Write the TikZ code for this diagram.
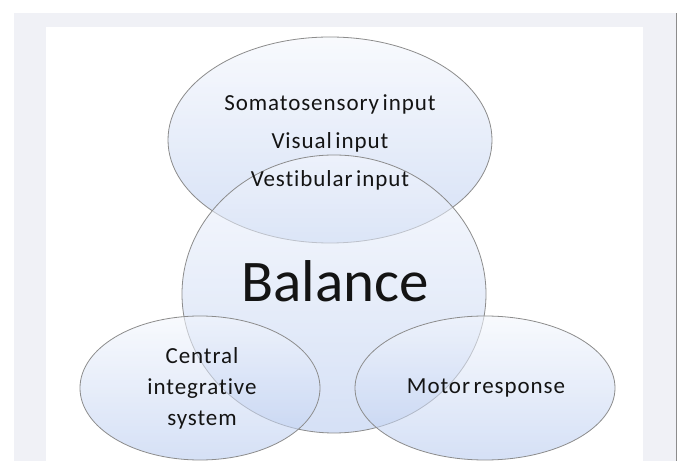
\documentclass[tikz,border=0pt]{standalone}
\usepackage{fontspec}
\setmainfont{Carlito}
\newfontfamily\spacedfont[LetterSpace=4,WordSpace=0.6,Ligatures=NoCommon]{Carlito}
\usetikzlibrary{shapes.geometric}
\definecolor{framegray}{HTML}{F0F1F6}
\definecolor{edgegray}{HTML}{8C8C8C}
\definecolor{bluetop}{HTML}{F4F7FD}
\definecolor{bluebot}{HTML}{B8CBF0}
\definecolor{txt}{HTML}{141414}
\tikzset{
  bubble/.style={ellipse, draw=edgegray, line width=0.8pt, inner sep=0pt,
    top color=bluetop, bottom color=bluebot, fill opacity=0.58, draw opacity=1},
  smalltxt/.style={text=txt, align=center, font=\spacedfont\fontsize{23}{31}\selectfont, inner sep=0pt},
}
\begin{document}
\begin{tikzpicture}[x=1pt,y=1pt]
  \fill[white] (0,0) rectangle (681,461);
  \useasboundingbox (0,0) rectangle (681,461);
  \fill[framegray] (14,0) rectangle (676,448);
  \draw[edgegray, line width=1.2pt] (676.6,0) -- (676.6,448);
  \fill[white] (46,0) rectangle (643,434);

  \node[bubble, minimum width=324pt, minimum height=206pt] (top) at (330,321) {};
  \node[bubble, minimum width=304pt, minimum height=278pt] (bal) at (334,167) {};
  \node[bubble, minimum width=240pt, minimum height=144pt] (left) at (200,73) {};
  \node[bubble, minimum width=260pt, minimum height=144pt] (right) at (485,73) {};

  \node[smalltxt, font=\spacedfont\fontsize{23}{38}\selectfont] (toptxt) at (330,319) {Somatosensory input\\Visual input\\Vestibular input};
  \node[text=txt, inner sep=0pt, font=\fontsize{59}{60}\selectfont] (baltxt) at (335,180) {Balance};
  \node[smalltxt] (lefttxt) at (202,73) {Central\\integrative\\system};
  \node[smalltxt] (righttxt) at (486,73) {Motor response};
\end{tikzpicture}
\end{document}
